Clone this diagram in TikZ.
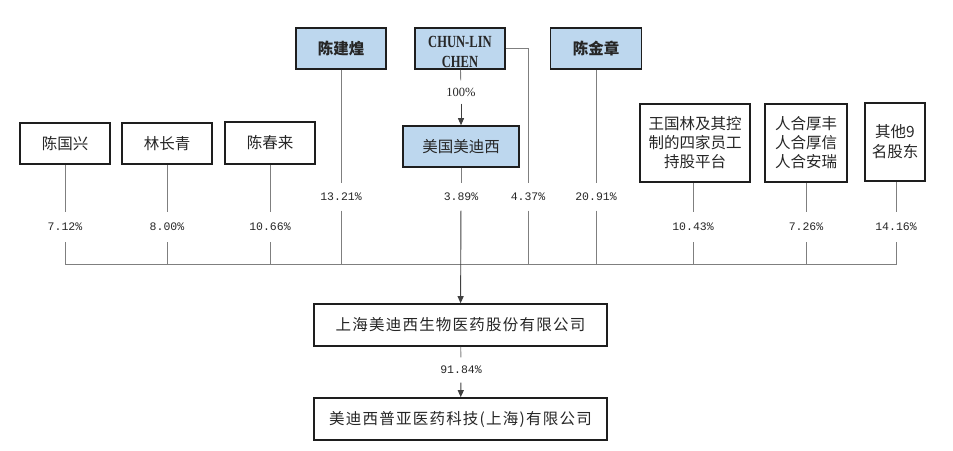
\documentclass[tikz,border=0pt]{standalone}
\usepackage{fontspec}
\setmainfont{Liberation Serif}
\newfontfamily\cjk{Noto Sans CJK SC}
\newfontfamily\cjkwide[LetterSpace=8]{Noto Sans CJK SC}
\newfontfamily\pctfont{Liberation Mono}
\newfontfamily\condserif[FakeStretch=0.74]{Liberation Serif}
\usetikzlibrary{arrows.meta}
\definecolor{boxblue}{HTML}{BDD7EE}
\definecolor{linegray}{HTML}{7F7F7F}
\definecolor{boxline}{HTML}{1E1E1E}
\tikzset{
  plain/.style={draw=boxline, line width=1.6pt, fill=white, inner sep=0pt,
    align=center, font=\cjk\fontsize{15.5}{19}\selectfont, text=black!85},
  blue/.style={plain, fill=boxblue, font=\cjk\bfseries\fontsize{15.5}{19}\selectfont},
  wide/.style={plain, font=\cjkwide\fontsize{15.5}{19}\selectfont},
  pct/.style={inner sep=0pt, minimum height=30pt, font=\pctfont\fontsize{11.5}{12}\selectfont, text=black!85},
  conn/.style={draw=linegray, line width=0.9pt},
  arr/.style={conn, draw=black!75, -{Triangle[length=7pt,width=6pt]}},
}
\begin{document}
\begin{tikzpicture}[x=1pt,y=-1pt]
\useasboundingbox (0,0) rectangle (953,450);
% top row
\node[blue, minimum width=90pt, minimum height=41pt] (cjh) at (341,48.5) {陈建煌};
\node[blue, minimum width=90pt, minimum height=41pt] (ccl) at (460,48.5) {};
\node[inner sep=0pt, align=center, text=black!85, font=\condserif\bfseries\fontsize{17}{20}\selectfont, yshift=-3.5pt] (ccltxt) at (ccl.center) {CHUN-LIN\\CHEN};
\node[blue, minimum width=91pt, minimum height=41pt] (cjz) at (596,48.5) {陈金章};
% second row
\node[plain, minimum width=90pt, minimum height=41pt] (cgx) at (65,143.5) {陈国兴};
\node[plain, minimum width=90pt, minimum height=41pt] (lcq) at (167,143.5) {林长青};
\node[plain, minimum width=90pt, minimum height=42pt] (ccl2) at (270,143) {陈春来};
\node[blue, minimum width=116pt, minimum height=41pt, font=\cjk\fontsize{15.5}{19}\selectfont] (mgm) at (461,146.5) {美国美迪西};
\node[plain, minimum width=110pt, minimum height=78pt] (wgl) at (695,143) {王国林及其控\\制的四家员工\\持股平台};
\node[plain, minimum width=82pt, minimum height=78pt] (rhh) at (806,143) {人合厚丰\\人合厚信\\人合安瑞};
\node[plain, minimum width=60pt, minimum height=78pt, font=\cjk\fontsize{15.5}{20}\selectfont] (qt) at (895,142) {其他9\\名股东};
% bottom
\node[wide, minimum width=293pt, minimum height=42pt] (sh) at (460.5,325) {上海美迪西生物医药股份有限公司};
\node[wide, minimum width=293pt, minimum height=42pt] (py) at (460.5,419) {美迪西普亚医药科技(上海)有限公司};
% percentage labels
\node[pct] (p1) at (65,227) {7.12\%};
\node[pct] (p2) at (167,227) {8.00\%};
\node[pct] (p3) at (270,227) {10.66\%};
\node[pct, minimum height=27pt] (p4) at (341,197) {13.21\%};
\node[pct, minimum height=27pt] (p5) at (461,197) {3.89\%};
\node[pct, minimum height=27pt] (p6) at (528,197) {4.37\%};
\node[pct, minimum height=27pt] (p7) at (596,197) {20.91\%};
\node[pct] (p8) at (693,227) {10.43\%};
\node[pct] (p9) at (806,227) {7.26\%};
\node[pct] (p10) at (896,227) {14.16\%};
\node[pct, minimum height=23pt, font=\fontsize{12.5}{13}\selectfont] (p100) at (461,92) {100\%};
\node[pct, minimum height=25pt] (p91) at (461,370) {91.84\%};
% bus
\coordinate (busL) at (65,264.5);
\coordinate (busR) at (896,264.5);
\draw[conn] (busL) -- (busR);
% connectors
\draw[conn] (cgx) -- (p1); \draw[conn] (p1) -- (p1 |- busL);
\draw[conn] (lcq) -- (p2); \draw[conn] (p2) -- (p2 |- busL);
\draw[conn] (ccl2) -- (p3); \draw[conn] (p3) -- (p3 |- busL);
\draw[conn] (cjh) -- (p4); \draw[conn] (p4) -- (p4 |- busL);
\draw[conn] (ccl.east) -| (p6); \draw[conn] (p6) -- (p6 |- busL);
\draw[conn] (cjz) -- (p7); \draw[conn] (p7) -- (p7 |- busL);
\draw[conn] (wgl.south -| p8) -- (p8); \draw[conn] (p8) -- (p8 |- busL);
\draw[conn] (rhh) -- (p9); \draw[conn] (p9) -- (p9 |- busL);
\draw[conn] (qt.south -| p10) -- (p10); \draw[conn] (p10) -- (p10 |- busL);
\draw[conn] (ccl) -- (p100); \draw[arr] (p100) -- (mgm);
\draw[conn] (mgm) -- (p5); \draw[arr] (p5) -- (sh);
\draw[conn] (sh) -- (p91); \draw[arr] (p91) -- (py);
\end{tikzpicture}
\end{document}
